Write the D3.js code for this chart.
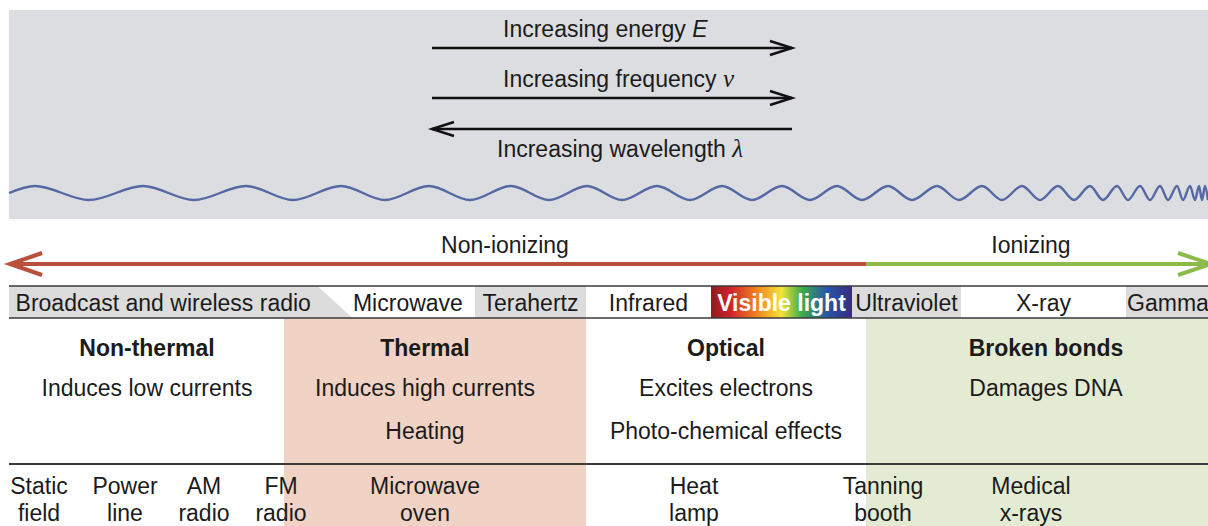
<!DOCTYPE html>
<html>
<head>
<meta charset="utf-8">
<script src="https://cdn.jsdelivr.net/npm/d3@7"></script>
<style>
  body { margin: 0; background: #fff; }
  svg { display: block; }
  text { font-family: "Liberation Sans", Arial, sans-serif; fill: #1b1b1b; }
</style>
</head>
<body>
<svg></svg>
<script>
// positions along the spectrum, in spectrum units (0 = left end)
const trendLabels = ["Increasing energy ", "Increasing frequency ", "Increasing wavelength "];
const trendSymbols = ["E", "\u03bd", "\u03bb"];
const trendDir = [1, 1, -1];
const trendSpan = [423, 783];

// wave crests / troughs
const waveCrests = [26, 134, 237, 332, 420, 502, 578, 648, 713, 773, 828, 879, 928, 973, 1013, 1049, 1081, 1108, 1131, 1151, 1168, 1181, 1190, 1196];
const waveTroughs = [80, 185, 284, 376, 461, 540, 613, 681, 743, 801, 853, 903, 950, 993, 1031, 1065, 1094, 1119, 1141, 1159, 1174, 1186, 1193, 1199];

const ionNames = ["Non-ionizing", "Ionizing"];
const ionEdges = [0, 857, 1202];
const ionLabelAt = [496, 1022];

const bandNames = ["Broadcast and wireless radio", "Microwave", "Terahertz", "Infrared", "Visible light", "Ultraviolet", "X-ray", "Gamma"];
const bandEdges = [0, 326, 466, 577, 702, 843, 952, 1117, 1201];

const effectNames = ["Non-thermal", "Thermal", "Optical", "Broken bonds"];
const effectEdges = [0, 275, 577, 857, 1200];
const effectLabelAt = [138, 416, 717, 1037];
const effectLine1 = ["Induces low currents", "Induces high currents", "Excites electrons", "Damages DNA"];
const effectLine2 = ["", "Heating", "Photo-chemical effects", ""];

const exampleTop = ["Static", "Power", "AM", "FM", "Microwave", "Heat", "Tanning", "Medical"];
const exampleBottom = ["field", "line", "radio", "radio", "oven", "lamp", "booth", "x-rays"];
const exampleAt = [30, 116, 195, 272, 416, 685, 874, 1022];

var svgWidth = 1208, svgHeight = 526;

var svg = d3.select("svg")
    .attr("width", svgWidth)
    .attr("height", svgHeight);

var x = d3.scaleLinear().domain([0, 1200]).range([9, 1209]);

var defs = svg.append("defs");
var grad = defs.append("linearGradient").attr("id", "rainbow");
[["0%", "#8e1b1e"], ["14%", "#d2232a"], ["33%", "#f0861f"], ["50%", "#f3e33a"], ["64%", "#3fae49"], ["82%", "#2657a8"], ["100%", "#3b2a84"]]
    .forEach(function(s) { grad.append("stop").attr("offset", s[0]).attr("stop-color", s[1]); });

// top grey panel
svg.append("rect")
    .attr("x", x(0)).attr("y", 10)
    .attr("width", svgWidth - x(0)).attr("height", 209)
    .attr("fill", "#dcdde0");

// trend arrows
var ty = [48, 98, 129];
var tlab = [37, 87, 157];
var g = svg.append("g").attr("stroke", "#111").attr("stroke-width", 2.5).attr("fill", "none");
trendDir.forEach(function(d, i) {
    var x0 = x(trendSpan[0]), x1 = x(trendSpan[1]);
    g.append("line").attr("x1", x0).attr("x2", x1).attr("y1", ty[i]).attr("y2", ty[i]);
    var tip = d > 0 ? x1 : x0, back = tip - d * 22;
    g.append("path").attr("d", "M" + back + "," + (ty[i] - 7) + "L" + tip + "," + ty[i] + "L" + back + "," + (ty[i] + 7));
});
svg.selectAll(".trend").data(trendLabels).join("text")
    .attr("class", "trend")
    .attr("x", function(d, i) { return i < 2 ? 503 : 497; })
    .attr("y", function(d, i) { return tlab[i]; })
    .attr("font-size", 23)
    .each(function(d, i) {
        var t = d3.select(this);
        t.append("tspan").text(d);
        t.append("tspan").text(trendSymbols[i]).attr("font-style", "italic")
            .style("font-family", i ? "'Liberation Serif', serif" : null)
            .attr("font-size", i ? 25 : 23);
    });

// wave
var wy = d3.scaleLinear().domain([-1, 1]).range([200, 186]);
var wavePts = [{ u: 0, v: 0 }]
    .concat(waveCrests.map(function(u) { return { u: u, v: 1 }; }))
    .concat(waveTroughs.map(function(u) { return { u: u, v: -1 }; }))
    .sort(function(a, b) { return a.u - b.u; });
svg.append("path")
    .datum(wavePts)
    .attr("fill", "none")
    .attr("stroke", "#5468a4")
    .attr("stroke-width", 2.4)
    .attr("d", d3.line().x(function(d) { return x(d.u); }).y(function(d) { return wy(d.v); }).curve(d3.curveMonotoneX));

// ionizing arrow
var ionColor = ["#b9503b", "#8cbb4c"];
var iy = 264;
ionNames.forEach(function(n, i) {
    svg.append("line")
        .attr("x1", x(ionEdges[i])).attr("x2", x(ionEdges[i + 1]))
        .attr("y1", iy).attr("y2", iy)
        .attr("stroke", ionColor[i]).attr("stroke-width", 4);
    svg.append("text").attr("x", x(ionLabelAt[i])).attr("y", 253)
        .attr("text-anchor", "middle").attr("font-size", 23).text(n);
});
svg.append("path").attr("d", "M" + (x(0) + 33) + "," + (iy - 11) + "L" + (x(0) + 1) + "," + iy + "L" + (x(0) + 33) + "," + (iy + 11))
    .attr("fill", "none").attr("stroke", ionColor[0]).attr("stroke-width", 4);
var rt = x(ionEdges[2]);
svg.append("path").attr("d", "M" + (rt - 33) + "," + (iy - 11) + "L" + rt + "," + iy + "L" + (rt - 33) + "," + (iy + 11))
    .attr("fill", "none").attr("stroke", ionColor[1]).attr("stroke-width", 4);

// effect regions
var effectFill = d3.scaleOrdinal().domain(effectNames).range(["none", "#f0d3c4", "none", "#e3ebd3"]);
svg.selectAll(".eff").data(effectNames).join("rect")
    .attr("class", "eff")
    .attr("x", function(d, i) { return x(effectEdges[i]); })
    .attr("width", function(d, i) { return x(effectEdges[i + 1]) - x(effectEdges[i]); })
    .attr("y", 318).attr("height", svgHeight - 318)
    .attr("fill", function(d) { return effectFill(d); });

// band row
var by0 = 286, by1 = 318, slant = 17.5;
var bandFill = d3.scaleOrdinal().domain(bandNames)
    .range(["#dcdcdc", "#fff", "#dcdcdc", "#fff", "url(#rainbow)", "#dcdcdc", "#fff", "#dcdcdc"]);
svg.selectAll(".band").data(bandNames.slice(1)).join("rect")
    .attr("class", "band")
    .attr("x", function(d, i) { return x(bandEdges[i + 1]) - (i === 0 ? 20 : 0); })
    .attr("width", function(d, i) { return x(bandEdges[i + 2]) - x(bandEdges[i + 1]) + (i === 0 ? 20 : 0) + (i === 6 ? 30 : 0); })
    .attr("y", by0).attr("height", by1 - by0)
    .attr("fill", function(d) { return bandFill(d); });
var bx = x(bandEdges[1]);
svg.append("path")
    .attr("d", "M" + x(0) + "," + by0 + "L" + (bx - slant) + "," + by0 + "L" + (bx + slant) + "," + by1 + "L" + x(0) + "," + by1 + "Z")
    .attr("fill", bandFill(bandNames[0]));
svg.selectAll(".bandlab").data(bandNames).join("text")
    .attr("class", "bandlab")
    .attr("x", function(d, i) {
        var a = x(bandEdges[i]), b = x(bandEdges[i + 1]);
        if (i === 0) b -= slant;
        if (i === 1) a += slant / 3;
        return (a + b) / 2;
    })
    .attr("y", 311)
    .attr("text-anchor", "middle")
    .attr("font-size", 23)
    .attr("font-weight", function(d) { return d === "Visible light" ? "bold" : null; })
    .style("fill", function(d) { return d === "Visible light" ? "#fff" : null; })
    .text(function(d) { return d; });
[by0, by1].forEach(function(y) {
    svg.append("line").attr("x1", x(0)).attr("x2", svgWidth).attr("y1", y).attr("y2", y)
        .attr("stroke", "#3a3a3a").attr("stroke-width", 1.6);
});

// effect texts
var rows = [[effectNames, 356, "bold"], [effectLine1, 396, null], [effectLine2, 439, null]];
rows.forEach(function(r) {
    svg.selectAll(null).data(r[0]).join("text")
        .attr("x", function(d, i) { return x(effectLabelAt[i]); })
        .attr("y", r[1])
        .attr("text-anchor", "middle")
        .attr("font-size", 23)
        .attr("font-weight", r[2])
        .text(function(d) { return d; });
});

svg.append("line").attr("x1", x(0)).attr("x2", svgWidth).attr("y1", 464).attr("y2", 464)
    .attr("stroke", "#3a3a3a").attr("stroke-width", 2);

// examples
[[exampleTop, 494], [exampleBottom, 521]].forEach(function(r) {
    svg.selectAll(null).data(r[0]).join("text")
        .attr("x", function(d, i) { return x(exampleAt[i]); })
        .attr("y", r[1])
        .attr("text-anchor", "middle")
        .attr("font-size", 23)
        .text(function(d) { return d; });
});
</script>
</body>
</html>
